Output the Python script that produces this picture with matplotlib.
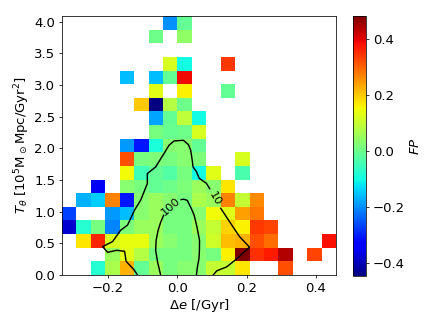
import numpy as np
import matplotlib
matplotlib.use('Agg')
import matplotlib.pyplot as plt

nan = np.nan

# bin edges
x_edges = np.arange(-8, 12) * 0.0417
y_edges = np.linspace(0.0, 4.087, 20)

# FP values per bin, rows from bottom (row 0) to top (row 18), 19 columns
fp_rows = [
    [nan, nan, -0.08, 0.07, 0.22, -0.01, 0.05, 0.01, 0.03, 0.03, 0.10, 0.10, 0.17, nan, nan, 0.32, nan, nan, nan],
    [nan, nan, nan, 0.05, 0.13, 0.08, 0.01, 0.01, 0.01, 0.03, 0.01, 0.16, 0.481, 0.35, 0.37, 0.44, nan, 0.33, nan],
    [nan, 0.17, 0.36, 0.12, 0.14, 0.14, 0.05, 0.03, 0.01, 0.03, 0.11, 0.21, 0.22, 0.32, 0.29, nan, nan, nan, 0.38],
    [-0.38, -0.08, 0.01, -0.21, 0.02, 0.05, 0.05, 0.01, 0.01, 0.05, 0.10, 0.19, 0.16, 0.34, 0.33, nan, nan, nan, nan],
    [-0.27, nan, nan, -0.19, -0.16, 0.03, 0.05, 0.01, 0.01, 0.03, 0.15, 0.13, 0.24, 0.28, nan, nan, nan, nan, nan],
    [nan, -0.17, -0.145, 0.27, -0.31, 0.03, 0.05, 0.03, 0.01, 0.07, 0.05, 0.27, 0.10, 0.26, nan, nan, nan, nan, nan],
    [nan, nan, -0.35, nan, 0.03, 0.01, -0.01, 0.00, 0.02, 0.05, 0.03, 0.17, nan, nan, nan, nan, nan, nan, nan],
    [nan, nan, nan, nan, 0.15, -0.05, -0.01, -0.03, 0.01, -0.10, 0.13, nan, -0.04, nan, nan, nan, nan, nan, nan],
    [nan, nan, nan, nan, 0.32, 0.01, 0.02, 0.01, 0.03, 0.02, nan, nan, 0.12, nan, nan, nan, nan, nan, nan],
    [nan, nan, nan, nan, -0.19, -0.31, -0.09, 0.03, 0.03, -0.01, nan, nan, nan, nan, nan, nan, nan, nan, nan],
    [nan, nan, nan, nan, nan, nan, 0.01, -0.005, 0.00, 0.12, nan, nan, nan, nan, nan, nan, nan, nan, nan],
    [nan, nan, nan, nan, nan, nan, -0.18, -0.01, 0.09, -0.10, nan, nan, nan, nan, nan, nan, nan, nan, nan],
    [nan, nan, nan, nan, nan, 0.20, -0.447, 0.08, 0.00, nan, nan, nan, nan, nan, nan, nan, nan, nan, nan],
    [nan, nan, nan, nan, nan, nan, 0.13, nan, 0.16, nan, nan, -0.01, nan, nan, nan, nan, nan, nan, nan],
    [nan, nan, nan, nan, -0.16, nan, -0.16, -0.01, 0.39, nan, nan, nan, nan, nan, nan, nan, nan, nan, nan],
    [nan, nan, nan, nan, nan, nan, nan, 0.12, -0.10, nan, nan, 0.34, nan, nan, nan, nan, nan, nan, nan],
    [nan, nan, nan, nan, nan, nan, nan, nan, nan, nan, nan, nan, nan, nan, nan, nan, nan, nan, nan],
    [nan, nan, nan, nan, nan, nan, 0.00, nan, 0.04, nan, nan, nan, nan, nan, nan, nan, nan, nan, nan],
    [nan, nan, nan, nan, nan, nan, nan, -0.20, -0.01, nan, nan, nan, nan, nan, nan, nan, nan, nan, nan],
]

# contour of 10 objects per bin (two pieces, split at the inline label)
c10a_x = [-0.1149, -0.1265, -0.1482, -0.1525, -0.1755, -0.2016, -0.2161, -0.1872, -0.1641, -0.1438,
          -0.1236, -0.1062, -0.0868, -0.0868, -0.0628, -0.0388, -0.0243, -0.0098, 0.0174, 0.0318,
          0.0385, 0.0434, 0.0452, 0.0550, 0.0631, 0.0839, 0.0935]
c10a_y = [0.0, 0.090, 0.216, 0.374, 0.390, 0.358, 0.448, 0.527, 0.706, 0.789,
          1.026, 1.179, 1.443, 1.601, 1.705, 1.916, 2.047, 2.115, 2.126, 2.058,
          1.968, 1.790, 1.705, 1.632, 1.526, 1.447, 1.361]
c10b_x = [0.1253, 0.1505, 0.1795, 0.2084, 0.1716, 0.1427, 0.1138, 0.1036]
c10b_y = [1.053, 0.843, 0.606, 0.440, 0.256, 0.129, 0.066, 0.0]

# contour of 100 objects per bin
c100a_x = [-0.0483, -0.0570, -0.0628, -0.0614, -0.0556, -0.0483, -0.0397]
c100a_y = [0.0, 0.200, 0.390, 0.548, 0.706, 0.832, 0.942]
c100b_x = [0.0110, 0.0182, 0.0284, 0.0399, 0.0486, 0.0564, 0.0640, 0.0637, 0.0625, 0.0573, 0.0550]
c100b_y = [1.190, 1.195, 1.179, 1.053, 0.942, 0.761, 0.548, 0.390, 0.264, 0.106, 0.0]

labels = ['10', '100']
label_x = [0.1094, -0.019]
label_y = [1.207, 1.085]
label_rot = [-60, 42]

x_ticks = [-0.2, 0.0, 0.2, 0.4]
y_ticks = [0.0, 0.5, 1.0, 1.5, 2.0, 2.5, 3.0, 3.5, 4.0]
cb_ticks = [-0.4, -0.2, 0.0, 0.2, 0.4]

plt.rcParams['font.size'] = 14

fig = plt.figure(figsize=(6.4, 4.8), dpi=68.125)
ax = fig.add_axes([0.142, 0.159, 0.629, 0.792])

vals = np.ma.masked_invalid(np.array(fp_rows))
mesh = ax.pcolormesh(x_edges, y_edges, vals, cmap='jet',
                     vmin=np.nanmin(np.array(fp_rows)), vmax=np.nanmax(np.array(fp_rows)))

for xs, ys in [(c10a_x, c10a_y), (c10b_x, c10b_y), (c100a_x, c100a_y), (c100b_x, c100b_y)]:
    ax.plot(xs, ys, color='black', lw=1.5)

for t, lx, ly, r in zip(labels, label_x, label_y, label_rot):
    ax.text(lx, ly, t, rotation=r, ha='center', va='center', fontsize=12,
            rotation_mode='anchor')

ax.set_xlim(x_edges[0], x_edges[-1])
ax.set_ylim(y_edges[0], y_edges[-1])
ax.set_xticks(x_ticks)
ax.set_yticks(y_ticks)
ax.set_xlabel(r'$\Delta e$ [/Gyr]', labelpad=2)
ax.set_ylabel(r'$T_\theta$ [$10^5$M$_\odot$Mpc/Gyr$^2$]', labelpad=2)

cax = fig.add_axes([0.809, 0.156, 0.0306, 0.795])
cb = fig.colorbar(mesh, cax=cax)
cb.set_ticks(cb_ticks)
cb.set_label(r'$FP$')

fig.savefig('out.png', dpi=68.125)
